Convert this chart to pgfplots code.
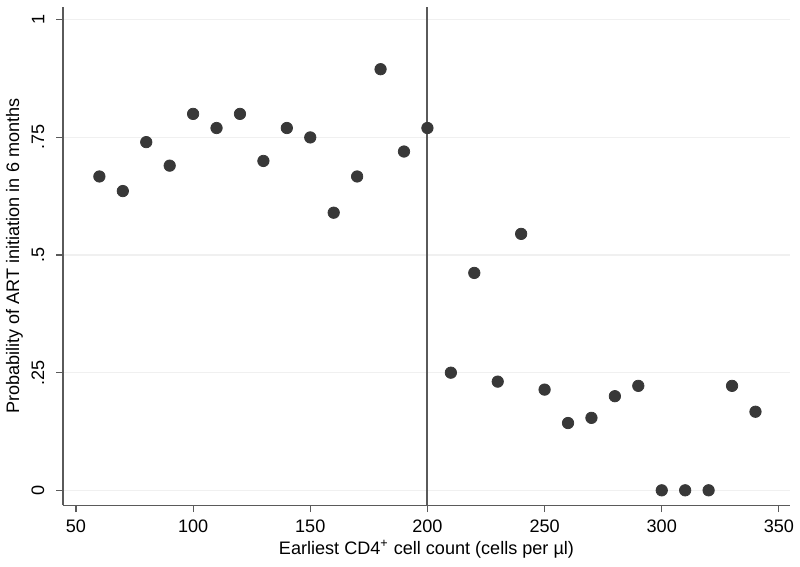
\documentclass[border=0pt]{standalone}
\usepackage{pgfplots}
\pgfplotsset{compat=1.18}
\usepackage{fontspec}
\setmainfont{Liberation Sans}
\definecolor{dotgray}{HTML}{383838}
\definecolor{axgray}{HTML}{5A5A5A}
\begin{document}
\fontsize{9.5}{11}\selectfont
\begin{tikzpicture}
\begin{axis}[
    scale only axis,
    width=382pt, height=262pt,
    xmin=44.5, xmax=354.7,
    ymin=-0.032, ymax=1.0275,
    axis x line*=bottom, axis y line*=left,
    axis line style={axgray, line width=0.7pt},
    tick align=outside, major tick length=3.5pt,
    tick style={axgray, line width=0.6pt},
    xtick={50,100,...,350},
    ytick={0,0.25,0.5,0.75,1},
    yticklabels={0,.25,.5,.75,1},
    yticklabel style={rotate=90, anchor=south},
    yticklabel shift=3pt,
    xticklabel shift=1pt,
    ymajorgrids, grid style={black!6, line width=0.6pt},
    /pgf/number format/assume math mode=true,
    xlabel={Earliest CD4\textsuperscript{+} cell count (cells per µl)},
    ylabel={Probability of ART initiation in 6 months},
    xlabel style={yshift=3pt},
    ylabel style={yshift=-2pt},
    clip=false,
]
\addplot[axgray, line width=1pt, forget plot] coordinates {(200,-0.032) (200,1.0275)};
\addplot[only marks, mark=*, mark size=3pt, color=dotgray] coordinates {
(60,0.667) (70,0.636) (80,0.74) (90,0.69) (100,0.80) (110,0.77) (120,0.80)
(130,0.70) (140,0.77) (150,0.75) (160,0.59) (170,0.667) (180,0.895) (190,0.72)
(200,0.77) (210,0.25) (220,0.462) (230,0.231) (240,0.545) (250,0.214)
(260,0.143) (270,0.154) (280,0.20) (290,0.222) (300,0) (310,0) (320,0)
(330,0.222) (340,0.167)
};
\end{axis}
\path ([yshift=3.6pt]current axis.north) ([xshift=2.6pt]current axis.east)
      ([yshift=-32pt]current axis.south);
\end{tikzpicture}
\end{document}
